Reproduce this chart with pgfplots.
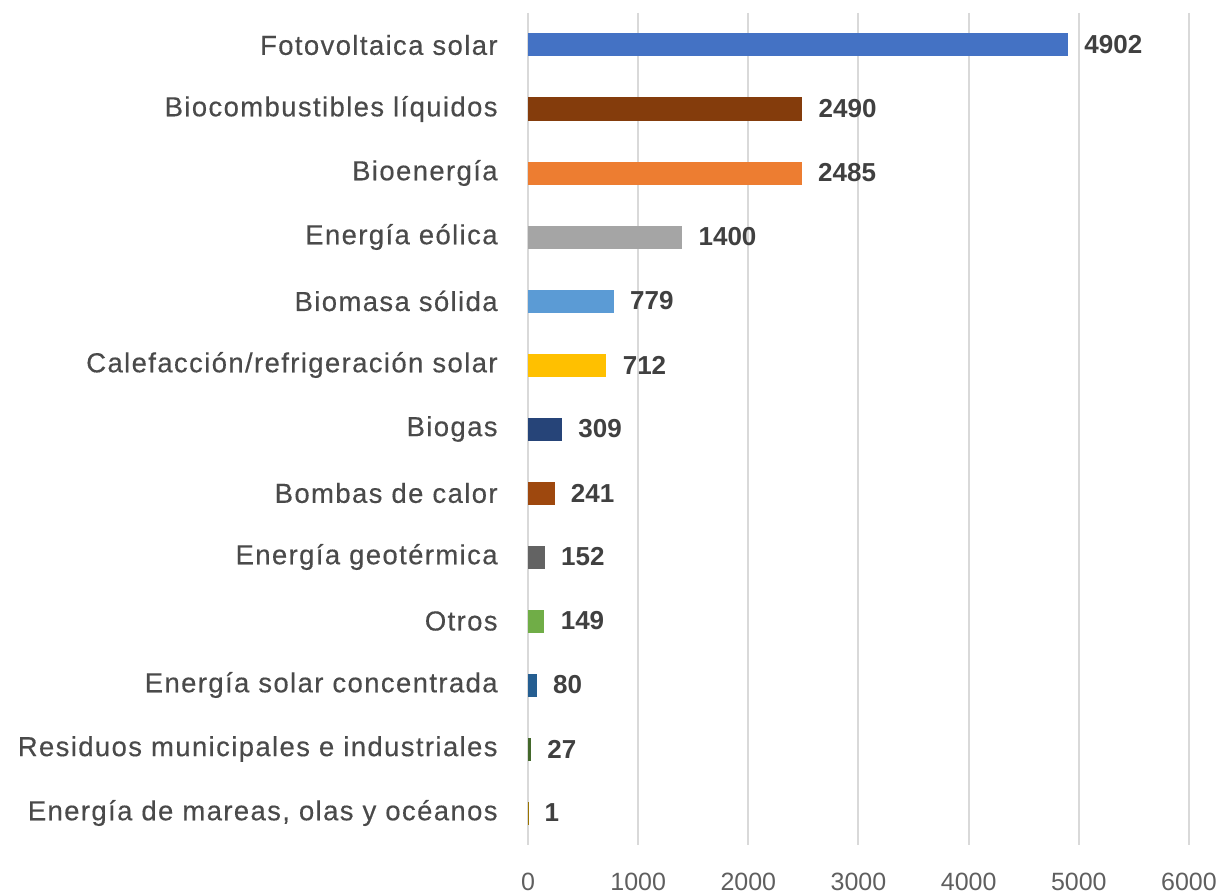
\documentclass[border=0pt]{standalone}
\usepackage{fontspec}
\usepackage{pgfplots}
\pgfplotsset{compat=1.18}
\setmainfont{Liberation Sans}
\newfontfamily\catfont[LetterSpace=5,FakeBold=0.35]{Liberation Sans}

\definecolor{cfoto}{HTML}{4472C4}
\definecolor{cbiocomb}{HTML}{843C0C}
\definecolor{cbioen}{HTML}{ED7D31}
\definecolor{ceolica}{HTML}{A5A5A5}
\definecolor{cbiomasa}{HTML}{5B9BD5}
\definecolor{ccalef}{HTML}{FFC000}
\definecolor{cbiogas}{HTML}{264478}
\definecolor{cbombas}{HTML}{9E480E}
\definecolor{cgeo}{HTML}{636363}
\definecolor{cotros}{HTML}{70AD47}
\definecolor{cconc}{HTML}{255E91}
\definecolor{cresid}{HTML}{43682B}
\definecolor{cmareas}{HTML}{997300}
\definecolor{labelgray}{HTML}{4A4A4A}
\definecolor{valgray}{HTML}{404040}
\definecolor{tickgray}{HTML}{5F5F5F}

\begin{document}
\begin{tikzpicture}
\begin{axis}[
    scale only axis,
    width=330.5pt, height=416pt,
    xmin=0, xmax=6000,
    ymin=-0.5, ymax=12.5,
    y dir=reverse,
    xtick={0,1000,...,6000},
    ytick={0,...,12},
    yticklabels={
        Fotovoltaica solar,
        Biocombustibles líquidos,
        Bioenergía,
        Energía eólica,
        Biomasa sólida,
        Calefacción/refrigeración solar,
        Biogas,
        Bombas de calor,
        Energía geotérmica,
        Otros,
        Energía solar concentrada,
        Residuos municipales e industriales,
        {Energía de mareas, olas y océanos}},
    major tick length=0pt,
    axis line style={draw=none},
    xmajorgrids,
    grid style={draw=black!15, line width=1pt},
    /pgf/number format/1000 sep={},
    /pgf/number format/assume math mode=true,
    yticklabel style={anchor=east, inner sep=0pt, xshift=-15pt,
        font=\catfont\fontsize{13.75}{15}\selectfont, text=labelgray},
    xticklabel style={anchor=base, inner sep=0pt, yshift=-22.5pt,
        font=\fontsize{12.5}{15}\selectfont, text=tickgray},
    point meta=x,
    nodes near coords,
    nodes near coords style={anchor=west, inner sep=0pt, xshift=8pt,
        font=\bfseries\fontsize{13}{15}\selectfont, text=valgray},
]
\addplot[xbar, bar width=11.5pt, bar shift=0pt, fill=cfoto, draw=none] coordinates {(4902,0)};
\addplot[xbar, bar width=11.5pt, bar shift=0pt, fill=cbiocomb, draw=none] coordinates {(2490,1)};
\addplot[xbar, bar width=11.5pt, bar shift=0pt, fill=cbioen, draw=none] coordinates {(2485,2)};
\addplot[xbar, bar width=11.5pt, bar shift=0pt, fill=ceolica, draw=none] coordinates {(1400,3)};
\addplot[xbar, bar width=11.5pt, bar shift=0pt, fill=cbiomasa, draw=none] coordinates {(779,4)};
\addplot[xbar, bar width=11.5pt, bar shift=0pt, fill=ccalef, draw=none] coordinates {(712,5)};
\addplot[xbar, bar width=11.5pt, bar shift=0pt, fill=cbiogas, draw=none] coordinates {(309,6)};
\addplot[xbar, bar width=11.5pt, bar shift=0pt, fill=cbombas, draw=none] coordinates {(241,7)};
\addplot[xbar, bar width=11.5pt, bar shift=0pt, fill=cgeo, draw=none] coordinates {(152,8)};
\addplot[xbar, bar width=11.5pt, bar shift=0pt, fill=cotros, draw=none] coordinates {(149,9)};
\addplot[xbar, bar width=11.5pt, bar shift=0pt, fill=cconc, draw=none] coordinates {(80,10)};
\addplot[xbar, bar width=11.5pt, bar shift=0pt, fill=cresid, draw=none] coordinates {(27,11)};
\addplot[xbar, bar width=11.5pt, bar shift=0pt, fill=cmareas, draw=none] coordinates {(1,12)};
\end{axis}
\pgfresetboundingbox
\path[use as bounding box] (current axis.south west) ++(-264pt,-24pt) rectangle ++(612.5pt,446.5pt);
\end{tikzpicture}
\end{document}
